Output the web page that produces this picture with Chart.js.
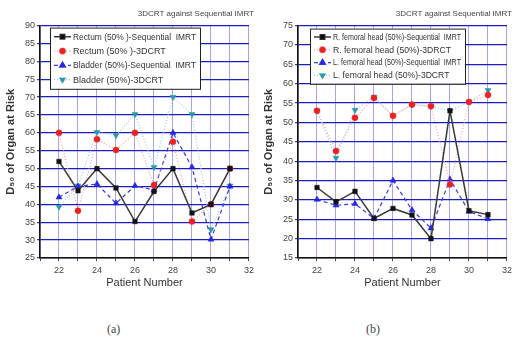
<!DOCTYPE html>
<html>
<head>
<meta charset="utf-8">
<script src="https://cdn.jsdelivr.net/npm/chart.js@4/dist/chart.umd.min.js"></script>
<style>
  body { margin: 0; background: #fff; width: 516px; height: 344px; position: relative; overflow: hidden; }
  .box { position: absolute; top: 0; width: 258px; height: 296px; }
  .cap { position: absolute; top: 322px; font: 12px "Liberation Serif", serif; color: #444; }
</style>
</head>
<body>
<div class="box" style="left:0"><canvas id="chartA"></canvas></div>
<div class="box" style="left:258px"><canvas id="chartB"></canvas></div>
<div class="cap" style="left:107px">(a)</div>
<div class="cap" style="left:366px">(b)</div>
<script>
// patient numbers on the x axis
const patients = [22, 23, 24, 25, 26, 27, 28, 29, 30, 31];

// (a) rectum / bladder
const rectumImrt   = [52, 43.8, 50, 44.6, 35.2, 43.6, 50, 37.6, 40, 50];
const rectum3d     = [60, 38.2, 58.2, 55.2, 60, 45.4, 57.5, 35.2, 40, 50];
const bladderImrt  = [42, 45, 45.7, 40.3, 45.2, 44, 60, 50.4, 30.2, 45];
const bladder3d    = [39.3, 45.2, 60.2, 59.3, 65.2, 50.4, 70, 65.2, 33, 45.2];

// (b) femoral heads
const rFemurImrt   = [33.2, 29.5, 32.2, 25.2, 27.8, 26.1, 20, 53, 27.2, 26.2];
const rFemur3d     = [53, 42.6, 51.2, 56.3, 51.7, 54.6, 54.2, 34, 55.3, 57.1];
const lFemurImrt   = [30.1, 28.6, 29, 25.2, 35, 27.4, 22.7, 35.3, 27, 25.1];
const lFemur3d     = [53, 40.8, 53.2, 56.6, 51.7, 54.6, 54.2, 53, 55.3, 58.3];

const titleText = '3DCRT against Sequential IMRT';
const yTitle = 'D\u2085\u2080 of Organ at Risk';
const xTitle = 'Patient Number';

function pts(vals) {
  return vals.map((v, i) => ({ x: patients[i], y: v }));
}

// four series styles shared by both panels
function makeSets(labels, series) {
  const styles = [
    { borderColor: '#3a3a3a', borderWidth: 1.5, borderDash: [], pointStyle: 'rect', pointRotation: 0, pointBackgroundColor: '#111', pointRadius: 3.2 },
    { borderColor: '#f2a0a8', borderWidth: 1.2, borderDash: [1, 2], pointStyle: 'circle', pointRotation: 0, pointBackgroundColor: '#ee2020', pointRadius: 3 },
    { borderColor: '#3838f0', borderWidth: 1.2, borderDash: [4, 3], pointStyle: 'triangle', pointRotation: 0, pointBackgroundColor: '#2626e8', pointRadius: 3.5 },
    { borderColor: '#98cce8', borderWidth: 1.2, borderDash: [1, 2], pointStyle: 'triangle', pointRotation: 180, pointBackgroundColor: '#2a98a8', pointRadius: 3.5 }
  ];
  return series.map((s, i) => Object.assign({
    label: labels[i],
    data: pts(s),
    pointBorderColor: styles[i].pointBackgroundColor,
    pointBorderWidth: 0.5,
    fill: false,
    tension: 0
  }, styles[i]));
}

// legend box drawn inside the plot area
const boxLegend = {
  id: 'boxLegend',
  afterDraw(chart, args, o) {
    const ctx = chart.ctx;
    const a = chart.chartArea;
    const x0 = a.left + o.x, y0 = a.top + o.y;
    ctx.save();
    ctx.fillStyle = '#fff';
    ctx.fillRect(x0, y0, o.w, o.rowH * 4 + 4);
    ctx.strokeStyle = '#222';
    ctx.lineWidth = 1;
    ctx.strokeRect(x0 + 0.5, y0 + 0.5, o.w, o.rowH * 4 + 4);
    ctx.font = o.font;
    ctx.textBaseline = 'middle';
    chart.data.datasets.forEach((ds, i) => {
      const cy = y0 + 2 + o.rowH * (i + 0.5);
      ctx.setLineDash(ds.borderDash);
      ctx.strokeStyle = ds.borderColor;
      ctx.lineWidth = ds.borderWidth;
      ctx.beginPath();
      ctx.moveTo(x0 + 4, cy);
      ctx.lineTo(x0 + 21, cy);
      ctx.stroke();
      ctx.setLineDash([]);
      Chart.helpers.drawPoint(ctx, {
        pointStyle: ds.pointStyle, rotation: ds.pointRotation, radius: ds.pointRadius, borderWidth: 0.5
      }, x0 + 12.5, cy);
      ctx.fillStyle = ds.pointBackgroundColor;
      ctx.fill();
      ctx.fillStyle = '#333';
      ctx.fillText(ds.label, x0 + 23, cy + 0.5, o.w - 27);
    });
    ctx.restore();
  }
};

function makeChart(id, labels, series, yMin, yMax, legendOpts) {
  const sets = makeSets(labels, series);
  return new Chart(document.getElementById(id), {
    type: 'line',
    data: { datasets: sets },
    options: {
      responsive: true,
      maintainAspectRatio: false,
      animation: false,
      layout: { padding: { left: 4, right: 4, top: 0, bottom: 2 } },
      plugins: {
        legend: { display: false },
        tooltip: { enabled: false },
        title: {
          display: true, text: titleText, align: 'end',
          color: '#444', font: { family: 'Liberation Sans', size: 8, weight: 'normal' },
          padding: { top: 9, bottom: 7 }
        },
        boxLegend: legendOpts
      },
      scales: {
        x: {
          type: 'linear', min: 21, max: 32,
          afterFit: s => { s.height = 36; },
          ticks: {
            stepSize: 1, autoSkip: false, maxRotation: 0, padding: 4,
            color: '#444', font: { family: 'Liberation Sans', size: 9 },
            callback: v => (v % 2 === 0 ? v : '')
          },
          grid: { color: '#a4a4f0', lineWidth: 1, tickLength: 3, tickColor: '#444' },
          border: { color: '#111', width: 1.5 },
          title: { display: true, text: xTitle, color: '#333', font: { family: 'Liberation Sans', size: 11 }, padding: { top: 5 } }
        },
        y: {
          min: yMin, max: yMax,
          afterFit: s => { s.width = 36; },
          ticks: {
            stepSize: 5, padding: 2,
            color: '#444', font: { family: 'Liberation Sans', size: 9 }
          },
          grid: { color: '#1c1cc0', lineWidth: 1.3, tickLength: 3, tickColor: '#444' },
          border: { color: '#111', width: 1.5 },
          title: { display: true, text: yTitle, color: '#333', font: { family: 'Liberation Sans', size: 11, weight: 'bold' }, padding: 0 }
        }
      }
    },
    plugins: [boxLegend]
  });
}

makeChart('chartA',
  ['Rectum (50% )-Sequential  IMRT', 'Rectum (50% )-3DCRT', 'Bladder (50%)-Sequential  IMRT', 'Bladder (50%)-3DCRT'],
  [rectumImrt, rectum3d, bladderImrt, bladder3d], 25, 90,
  { x: 10, y: 2, w: 150, rowH: 14.3, font: '9px "Liberation Sans"' });

makeChart('chartB',
  ['R. femoral head (50%)-Sequential  IMRT', 'R. femoral head (50%)-3DRCT', 'L. femoral head (50%)-Sequential  IMRT', 'L. femoral head (50%)-3DCRT'],
  [rFemurImrt, rFemur3d, lFemurImrt, lFemur3d], 15, 75,
  { x: 12, y: 3, w: 155, rowH: 12.8, font: '8.6px "Liberation Sans"' });
</script>
</body>
</html>
